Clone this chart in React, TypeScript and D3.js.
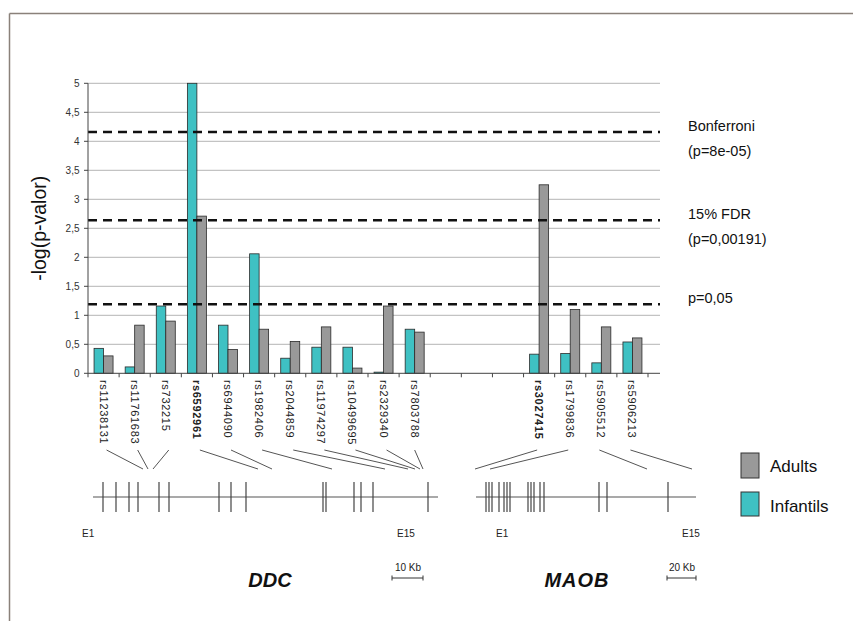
import React from "react";
import * as d3 from "d3";

const categories = [
  "rs11238131", "rs11761683", "rs732215", "rs6592961", "rs6944090", "rs1982406",
  "rs2044859", "rs11974297", "rs10499695", "rs2329340", "rs7803788",
  "", "", "",
  "rs3027415", "rs1799836", "rs5905512", "rs5906213",
];
const boldLabels = ["rs6592961", "rs3027415"];
const infantils = [0.43, 0.11, 1.16, 5.0, 0.83, 2.06, 0.26, 0.45, 0.45, 0.02, 0.76, null, null, null, 0.33, 0.34, 0.18, 0.54];
const adults = [0.30, 0.83, 0.90, 2.71, 0.41, 0.76, 0.55, 0.80, 0.09, 1.16, 0.71, null, null, null, 3.25, 1.10, 0.80, 0.61];
const yTicks = [0, 0.5, 1, 1.5, 2, 2.5, 3, 3.5, 4, 4.5, 5];
const thresholds = [
  { value: 4.16, lines: ["Bonferroni", "(p=8e-05)"] },
  { value: 2.64, lines: ["15% FDR", "(p=0,00191)"] },
  { value: 1.19, lines: ["p=0,05"] },
];
// gene structure (positions in gene-map pixels along each track)
const ddcExons = [103, 116, 129, 138, 159, 169, 219, 231, 246, 323, 326, 354, 361, 373, 428];
const maobExons = [486, 489, 492, 499, 504, 507, 510, 528, 531, 534, 540, 544, 599, 607, 668];
// connector: [category index, exon target x]
const connectors: [number, number][] = [
  [0, 143], [1, 148], [2, 153], [3, 258], [4, 272], [5, 332], [6, 385], [7, 408],
  [8, 415], [9, 420], [10, 423], [14, 475], [15, 490], [16, 647], [17, 692],
];

const FONT = "'Liberation Sans', Arial, sans-serif";
const TEAL = "#3fc1c3";
const GRAY = "#999999";

export default function App() {
  const x0 = 88, x1 = 648, axisEnd = 660;
  const yBase = 373.3, yTop = 83.3;
  const x = d3.scaleBand<string>().domain(categories.map((_, i) => String(i))).range([x0, x1]).padding(0);
  const bw = x.bandwidth();
  const inner = d3.scaleBand<string>().domain(["inf", "ad"]).range([bw / 2 - 9.5, bw / 2 + 9.5]).padding(0);
  const y = d3.scaleLinear().domain([0, 5]).range([yBase, yTop]);
  const fmt = (v: number) => String(v).replace(".", ",");

  const geneY = 497;
  const connTop = 450, connBottom = 469;

  return (
    <svg width={853} height={621} style={{ position: "absolute", left: 0, top: 0, background: "#fff" }} fontFamily={FONT}>
      {/* frame */}
      <line x1={9.5} y1={13.5} x2={853} y2={13.5} stroke="#8a817a" strokeWidth={1.5} />
      <line x1={9.5} y1={13.5} x2={9.5} y2={621} stroke="#8a817a" strokeWidth={1.5} />

      {/* gridlines */}
      {yTicks.slice(1).map((t) => (
        <line key={t} x1={x0} x2={axisEnd} y1={y(t)} y2={y(t)} stroke="#b4b4b4" strokeWidth={1} />
      ))}

      {/* bars */}
      {categories.map((c, i) => {
        const bx = x(String(i))!;
        return (
          <g key={i}>
            {infantils[i] != null && (
              <rect x={bx + inner("inf")!} y={y(infantils[i]!)} width={inner.bandwidth()} height={yBase - y(infantils[i]!)}
                fill={TEAL} stroke="#2a2a2a" strokeWidth={0.8} />
            )}
            {adults[i] != null && (
              <rect x={bx + inner("ad")!} y={y(adults[i]!)} width={inner.bandwidth()} height={yBase - y(adults[i]!)}
                fill={GRAY} stroke="#2a2a2a" strokeWidth={0.8} />
            )}
          </g>
        );
      })}

      {/* threshold lines */}
      {thresholds.map((t, k) => (
        <g key={k}>
          <line x1={x0} x2={axisEnd} y1={y(t.value)} y2={y(t.value)} stroke="#111" strokeWidth={2.6} strokeDasharray="9,6" />
          {t.lines.map((l, j) => (
            <text key={j} x={688} y={y(t.value) - 1 + j * 25} fontSize={14.5} fill="#111">{l}</text>
          ))}
        </g>
      ))}

      {/* y axis */}
      <line x1={x0} x2={x0} y1={yTop} y2={yBase} stroke="#444" strokeWidth={1} />
      {yTicks.map((t) => (
        <g key={t}>
          <line x1={x0 - 4} x2={x0} y1={y(t)} y2={y(t)} stroke="#444" />
          <text x={79.5} y={y(t) + 3.5} fontSize={10} textAnchor="end" fill="#333">{fmt(t)}</text>
        </g>
      ))}
      <text transform={`translate(46,${(yTop + yBase) / 2}) rotate(-90)`} textAnchor="middle" fontSize={19.5} fill="#111">-log(p-valor)</text>

      {/* x axis */}
      <line x1={x0} x2={axisEnd} y1={yBase} y2={yBase} stroke="#444" strokeWidth={1} />
      {d3.range(categories.length + 1).map((i) => (
        <line key={i} x1={x0 + i * bw} x2={x0 + i * bw} y1={yBase} y2={yBase + 4} stroke="#444" />
      ))}
      {categories.map((c, i) =>
        c ? (
          <text key={i} transform={`translate(${x(String(i))! + bw / 2 - 4},${380}) rotate(90)`} fontSize={11}
            letterSpacing={0.7}
            fontWeight={boldLabels.includes(c) ? "bold" : "normal"} fill="#222">{c}</text>
        ) : null
      )}

      {/* connectors */}
      {connectors.map(([ci, tx], k) => {
        const cx = x(String(ci))! + bw / 2;
        const sx = ci <= 10 ? cx + (ci === 10 ? 0 : 3) : cx - 2;
        return <line key={k} x1={sx} y1={connTop} x2={tx} y2={connBottom} stroke="#555" strokeWidth={1} />;
      })}

      {/* DDC gene */}
      <line x1={93} x2={438} y1={geneY} y2={geneY} stroke="#555" strokeWidth={1.2} />
      {ddcExons.map((ex, k) => (
        <line key={k} x1={ex} x2={ex} y1={482} y2={512} stroke="#444" strokeWidth={1.2} />
      ))}
      <text x={82} y={537} fontSize={10} fill="#222">E1</text>
      <text x={397} y={537} fontSize={10} fill="#222">E15</text>
      <text x={270} y={587} fontSize={20} fontWeight="bold" fontStyle="italic" textAnchor="middle" fill="#111">DDC</text>
      <text x={408} y={571} fontSize={10} textAnchor="middle" fill="#222">10 Kb</text>
      <line x1={392} x2={423} y1={578} y2={578} stroke="#333" />
      <line x1={392} x2={392} y1={575.5} y2={580.5} stroke="#333" />
      <line x1={423} x2={423} y1={575.5} y2={580.5} stroke="#333" />

      {/* MAOB gene */}
      <line x1={476} x2={696} y1={geneY} y2={geneY} stroke="#555" strokeWidth={1.2} />
      {maobExons.map((ex, k) => (
        <line key={k} x1={ex} x2={ex} y1={482} y2={512} stroke="#444" strokeWidth={1.2} />
      ))}
      <text x={496} y={537} fontSize={10} fill="#222">E1</text>
      <text x={682} y={537} fontSize={10} fill="#222">E15</text>
      <text x={577} y={587} fontSize={20} fontWeight="bold" fontStyle="italic" textAnchor="middle" fill="#111" letterSpacing={1}>MAOB</text>
      <text x={682} y={571} fontSize={10} textAnchor="middle" fill="#222">20 Kb</text>
      <line x1={667} x2={696} y1={578} y2={578} stroke="#333" />
      <line x1={667} x2={667} y1={575.5} y2={580.5} stroke="#333" />
      <line x1={696} x2={696} y1={575.5} y2={580.5} stroke="#333" />

      {/* legend */}
      <rect x={741} y={453} width={18} height={25} fill={GRAY} stroke="#333" strokeWidth={1} />
      <text x={770} y={472} fontSize={17} fill="#111">Adults</text>
      <rect x={741} y={492} width={18} height={24} fill={TEAL} stroke="#333" strokeWidth={1} />
      <text x={770} y={512} fontSize={17} fill="#111">Infantils</text>
    </svg>
  );
}
